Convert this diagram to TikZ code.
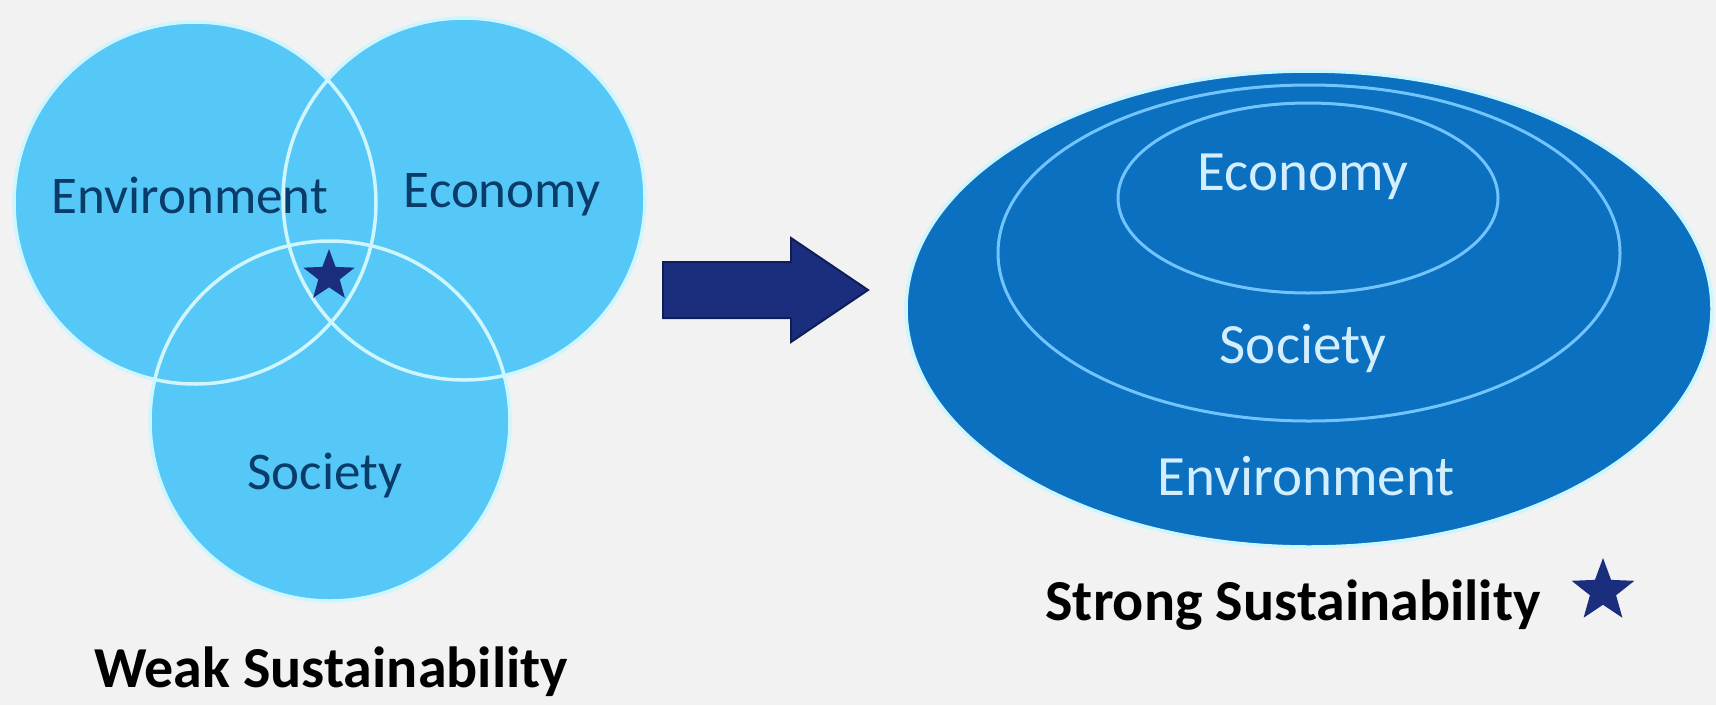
\documentclass[tikz,border=0pt]{standalone}
\usepackage{fontspec}
\setmainfont{Carlito}
\usetikzlibrary{shapes.geometric}
\definecolor{bg}{HTML}{F2F2F2}
\definecolor{lightfill}{HTML}{55C8F8}
\definecolor{rimwhite}{HTML}{CFF6FF}
\definecolor{darklabel}{HTML}{093C68}
\definecolor{navy}{HTML}{1B2E7E}
\definecolor{navyedge}{HTML}{0F1E58}
\definecolor{bigfill}{HTML}{0B70C0}
\definecolor{innerline}{HTML}{72C4FF}
\definecolor{lighttext}{HTML}{D2EEFF}
\tikzset{
  vennfill/.style={fill=lightfill},
  vennrim/.style={draw=rimwhite, line width=3.5pt},
  darklbl/.style={text=darklabel, font=\fontsize{53}{60}\selectfont, inner sep=0},
  lightlbl/.style={text=lighttext, font=\fontsize{57}{64}\selectfont, inner sep=0},
  titlelbl/.style={text=black, font=\bfseries\fontsize{58}{66}\selectfont, inner sep=0, anchor=base},
  starmark/.style={star, star points=5, star point ratio=2.4, fill=navy, draw=none, inner sep=0}
}
\begin{document}
\begin{tikzpicture}[x=1pt,y=-1pt]
\useasboundingbox (0,0) rectangle (1716,705);
\fill[bg] (0,0) rectangle (1716,705);
% ---- weak sustainability venn
\fill[vennfill] (195,203) circle [radius=181pt];
\fill[vennfill] (464,199) circle [radius=181pt];
\fill[vennfill] (330,421) circle [radius=180pt];
\draw[vennrim] (195,203) circle [radius=181pt];
\draw[vennrim] (464,199) circle [radius=181pt];
\draw[vennrim] (330,421) circle [radius=180pt];
\node[darklbl] (envL) at (190,195) {Environment};
\node[darklbl] (ecoL) at (502,195) {Economy};
\node[darklbl] (socL) at (325,476) {Society};
\node[starmark, minimum size=54pt] (starL) at (329,276) {};
\node[titlelbl] (weak) at (331,687) {Weak Sustainability};
% ---- arrow
\coordinate (a1) at (663,262);
\coordinate (a2) at (791,262);
\coordinate (a3) at (791,238);
\coordinate (tip) at (868,290);
\coordinate (a5) at (791,342);
\coordinate (a6) at (791,318);
\coordinate (a7) at (663,318);
\fill[navy, draw=navyedge, line width=2pt] (a1) -- (a2) -- (a3) -- (tip) -- (a5) -- (a6) -- (a7) -- cycle;
% ---- strong sustainability
\fill[bigfill] (1309,309) ellipse [x radius=403pt, y radius=238pt];
\draw[rimwhite, line width=3.5pt] (1309,309) ellipse [x radius=403pt, y radius=238pt];
\draw[innerline, line width=3pt] (1309,253) ellipse [x radius=311pt, y radius=168pt];
\draw[innerline, line width=3pt] (1308,198) ellipse [x radius=190pt, y radius=95pt];
\node[lightlbl] (ecoR) at (1303,177) {Economy};
\node[lightlbl] (socR) at (1303,348) {Society};
\node[lightlbl] (envR) at (1306,476) {Environment};
\node[titlelbl] (strong) at (1293,620) {Strong Sustainability};
\node[starmark, minimum size=66pt] (starR) at (1603,591) {};
\end{tikzpicture}
\end{document}
